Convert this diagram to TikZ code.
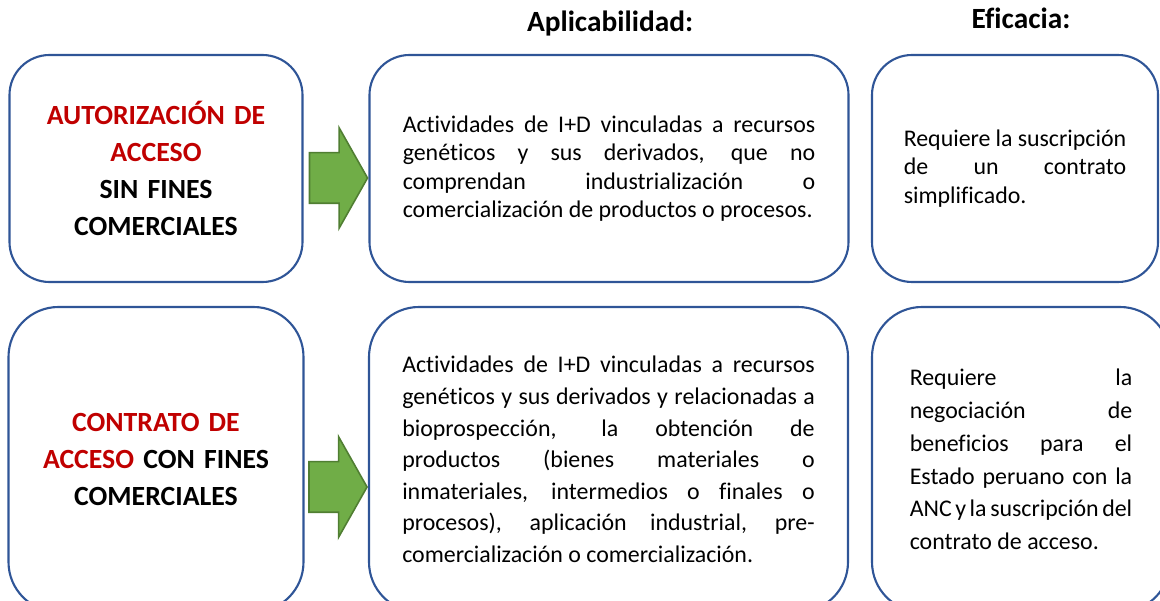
\documentclass[tikz,border=0pt]{standalone}
\usepackage{fontspec}
\setmainfont{Carlito}[Ligatures={NoCommon,NoContextual}]
\usepackage{tikz}
\usetikzlibrary{positioning}
\usetikzlibrary{shapes.arrows}
\definecolor{boxblue}{HTML}{2F5597}
\definecolor{arrowgreen}{HTML}{70AD47}
\definecolor{arrowedge}{HTML}{507E32}
\definecolor{titlered}{HTML}{C00000}
\newcommand\bodyfont[1]{\fontsize{13.6}{#1}\selectfont\spaceskip=.226em plus .8em minus .12em\hyphenpenalty=10000\tolerance=9999}
\tikzset{
    box/.style = {draw=boxblue,line width=1.2pt,rounded corners=0.8cm,inner sep=0},
    rowone/.style = {box,minimum height=4.54cm},
    rowtwo/.style = {box,rounded corners=1cm,minimum height=6.1cm},
    kind/.style = {align=center,text width=5.4cm},
    detail/.style = {align=justify,text width=8.25cm},
    effect/.style = {align=justify,text width=4.45cm},
    heading/.style = {font=\bfseries\fontsize{16.7}{20}\selectfont,anchor=base}
}
\tikzset{
    blockarrow/.style = {single arrow,draw=arrowedge,fill=arrowgreen,line width=0.9pt,inner xsep=0,inner ysep=0.49cm,
        minimum height=1.16cm,minimum width=1.98cm,single arrow head extend=0.5cm,
        single arrow tip angle=121,anchor=tip}
}
\begin{document}
\begin{tikzpicture}
    \newcommand\rowa{-3.37}
    \newcommand\rowb{-9.19}
    \clip (0,0) rectangle (23.2,-12.02);
    % Headings
    \path (12.2,-0.64) node[heading] (appl) {Aplicabilidad:}
        to +(8.22,0.06) node[heading] (efic) {Eficacia:}
    ;
    % First row
    \path (3.12,\rowa) node[rowone,minimum width=5.86cm,kind,font=\bfseries\fontsize{15.8}{21}\selectfont] (kindA)
            {\textcolor{titlered}{AUTORIZACIÓN DE}\\ \textcolor{titlered}{ACCESO}\\ SIN FINES\\ COMERCIALES}
        to +(9.06,0) node[rowone,minimum width=9.58cm,detail,font=\bodyfont{16.1}] (detA)
            {Actividades de I+D vinculadas a recursos\linebreak genéticos y sus derivados, que no\linebreak
             comprendan industrialización o\linebreak comercialización de productos o procesos.}
        to +(17.18,0) node[rowone,minimum width=5.72cm,effect,font=\bodyfont{16.1}] (effA)
            {Requiere la suscripción\linebreak de un contrato\linebreak simplificado.}
    ;
    % Second row
    \path (3.12,\rowb) node[rowtwo,minimum width=5.9cm,kind,font=\bfseries\fontsize{15.8}{21}\selectfont] (kindB)
            {\textcolor{titlered}{CONTRATO DE}\\ \textcolor{titlered}{ACCESO} CON FINES\\ COMERCIALES}
        to +(9.05,0) node[rowtwo,minimum width=9.58cm,detail,font=\bodyfont{18}] (detB)
            {Actividades de I+D vinculadas a recursos\linebreak genéticos y sus derivados y relacionadas a\linebreak
             bioprospección, la obtención de\linebreak productos (bienes materiales o\linebreak
             inmateriales, intermedios o finales o\linebreak procesos), aplicación industrial, pre-\linebreak
             comercialización o comercialización.}
        to +(17.30,0) node[rowtwo,minimum width=5.96cm,effect,font=\bodyfont{18.6}] (effB)
            {Requiere la\linebreak negociación de\linebreak beneficios para el\linebreak
             Estado peruano con la\linebreak ANC y la suscripción del\linebreak contrato de acceso.}
    ;
    % Arrows
    \foreach \dest/\drop in {detA/0.19,detB/0.55}
        \node[blockarrow] (arr\dest) at ([yshift=-\drop cm]\dest.west) {};
\end{tikzpicture}
\end{document}
